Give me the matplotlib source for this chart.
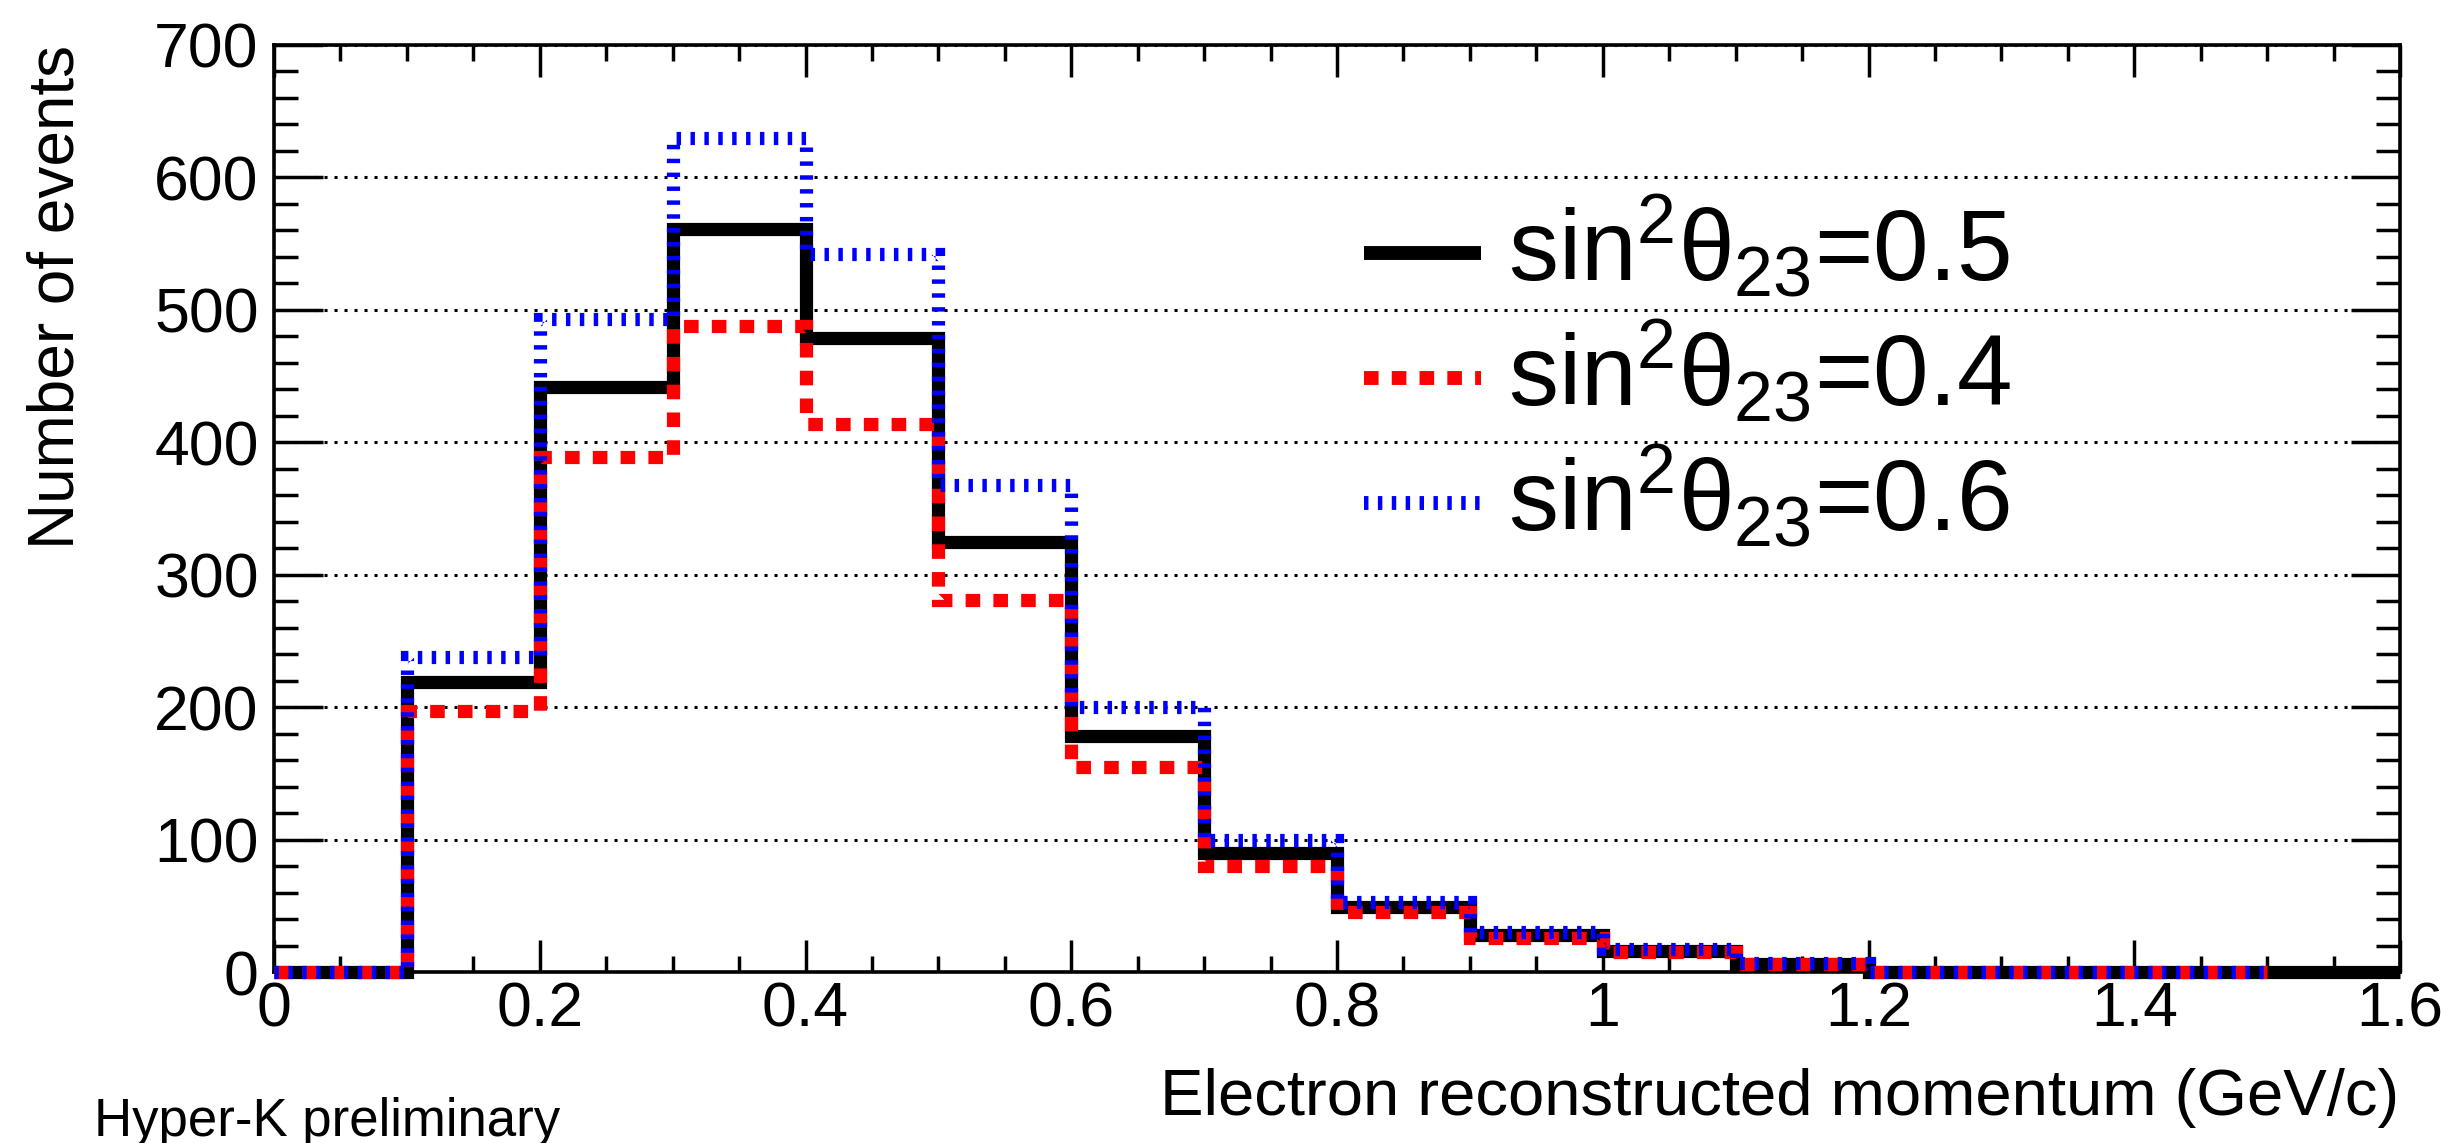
import numpy as np
import matplotlib
matplotlib.use("Agg")
import matplotlib.pyplot as plt
from matplotlib.ticker import MultipleLocator

plt.rcParams["font.family"] = ["Liberation Sans", "DejaVu Sans"]
plt.rcParams["mathtext.fontset"] = "custom"
plt.rcParams["mathtext.rm"] = "Liberation Sans"
plt.rcParams["mathtext.it"] = "Liberation Sans"
plt.rcParams["lines.scale_dashes"] = False

# bin edges (GeV/c)
edges_05 = np.round(np.arange(0, 1.61, 0.1), 2)
edges_46 = np.round(np.arange(0, 1.51, 0.1), 2)

# events per bin
h_05 = [0, 219, 442, 561, 479, 325, 178, 90, 49, 28, 16, 6, 0, 0, 0, 0]
h_04 = [0, 197, 389, 488, 414, 281, 155, 80, 45, 26, 15, 6, 0, 0, 0]
h_06 = [0, 238, 493, 630, 542, 368, 200, 100, 53, 30, 17, 7, 0, 0, 0]

labels = [r"sin$^{2}\theta_{23}$=0.5",
          r"sin$^{2}\theta_{23}$=0.4",
          r"sin$^{2}\theta_{23}$=0.6"]

W, H = 2453, 1143
L, R, T, B = 274, 2400, 45, 972  # axes frame in pixels
fig = plt.figure(figsize=(W / 100, H / 100), dpi=100)
ax = fig.add_axes([L / W, 1 - B / H, (R - L) / W, (B - T) / H])

styles = [
    dict(color="black", lw=9.5, ls="-"),
    dict(color="#ff0000", lw=9.5, ls=(0, (10.5, 9.5))),
    dict(color="#0000ff", lw=9.5, ls=(0, (3.2, 6.8))),
]

for vals, edges, st in zip([h_05, h_04, h_06], [edges_05, edges_46, edges_46], styles):
    s = ax.stairs(vals, edges, baseline=None, color=st["color"], lw=st["lw"],
                  ls=st["ls"], clip_on=False, zorder=3)
    s.set_capstyle("butt")
    s.set_joinstyle("miter")

ax.set_xlim(0, 1.6)
ax.set_ylim(0, 700)

ax.xaxis.set_major_locator(MultipleLocator(0.2))
ax.xaxis.set_minor_locator(MultipleLocator(0.05))
ax.yaxis.set_major_locator(MultipleLocator(100))
ax.yaxis.set_minor_locator(MultipleLocator(20))
ax.set_xticks(np.round(np.arange(0, 1.61, 0.2), 1))
ax.set_xticklabels(["0", "0.2", "0.4", "0.6", "0.8", "1", "1.2", "1.4", "1.6"])

ax.tick_params(which="both", direction="in", top=True, right=True, width=2.5,
               labelsize=45)
ax.tick_params(axis="x", which="major", length=23, pad=6)
ax.tick_params(axis="x", which="minor", length=11.5)
ax.tick_params(axis="y", which="major", length=35, pad=11)
ax.tick_params(axis="y", which="minor", length=17)
for sp in ax.spines.values():
    sp.set_linewidth(2.6)

ax.grid(axis="y", which="major", color="black", ls=(0, (2.2, 5)), lw=2.2)
ax.set_axisbelow(True)

# legend drawn by hand (pixel rows of the reference)
rows = [253, 378, 503]
for yp, st, lab in zip(rows, styles, labels):
    y = (B - yp) / (B - T)
    ax.plot([(1364 - L) / (R - L), (1481 - L) / (R - L)], [y, y],
            transform=ax.transAxes, color=st["color"], lw=10,
            ls=st["ls"], solid_capstyle="butt", dash_capstyle="butt",
            clip_on=False)
    ax.text((1508 - L) / (R - L), y - 28 / (B - T), lab, transform=ax.transAxes,
            fontsize=72, va="baseline", ha="left")

fig.text(74 / W, 1 - 45 / H, "Number of events", rotation=90,
         rotation_mode="anchor", ha="right", va="baseline", fontsize=46)
fig.text(2399 / W, 1 - 1115 / H, "Electron reconstructed momentum (GeV/c)",
         ha="right", va="baseline", fontsize=47)
fig.text(94 / W, 1 - 1136 / H, "Hyper-K preliminary", ha="left",
         va="baseline", fontsize=38)

fig.savefig("out.png", dpi=100)
